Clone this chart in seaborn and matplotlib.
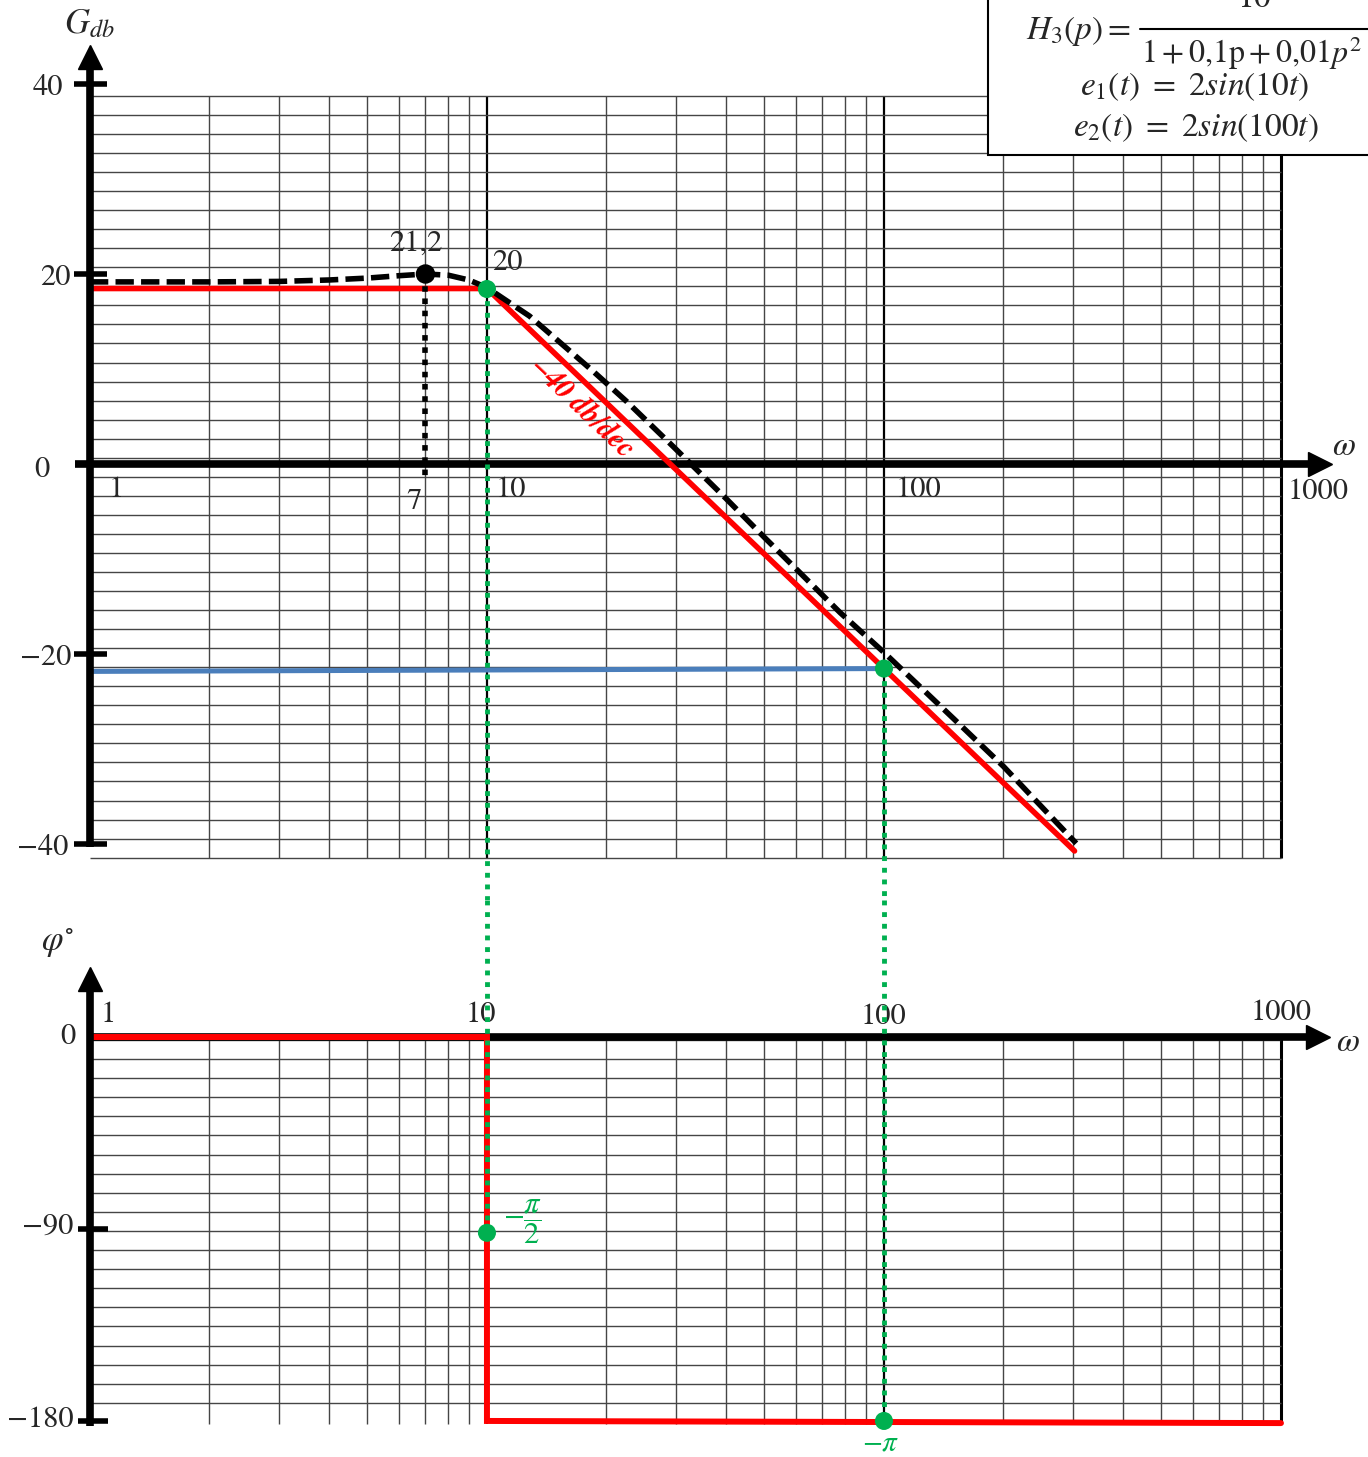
import matplotlib
matplotlib.use('Agg')
import matplotlib.pyplot as plt
from matplotlib.patches import Rectangle
from matplotlib.lines import Line2D
import seaborn as sns
import numpy as np

# values
w_asym = [1, 10, 302]
g_asym = [18.5, 18.5, -40.7]

w_real = [1, 2, 3, 4, 5, 6, 7, 8, 9, 10, 12.8, 15.3, 18.5, 22.5, 29.4, 40, 50, 77.5, 100, 150, 200, 305]
g_real = [19.2, 19.2, 19.25, 19.4, 19.6, 19.85, 20.03, 19.9, 19.4, 18.6, 15.6, 12.8, 9.8, 6.6, 1.9,
          -3.6, -7.7, -15.6, -19.8, -26.8, -31.8, -39.9]

w_blue = [1, 100]
g_blue = [-21.8, -21.5]

w_peak = [7]
g_peak = [20.03]
w_green = [10, 100]
g_green = [18.45, -21.5]

w_phase = [1, 10, 10, 1000]
p_phase = [0, 0, -180, -181]
w_green_ph = [10, 100]
p_green_ph = [-91.8, -180]

gain_ticks = [40, 20, -20, -40]
phase_ticks = [-90, -180]

GREEN = '#00B050'
RED = '#FF0000'
BLUE = '#4A7EBB'
GRID = '#454545'

sns.set_style('white')
plt.rcParams['font.family'] = ['STIXGeneral', 'DejaVu Serif']
plt.rcParams['mathtext.fontset'] = 'stix'
plt.rcParams['axes.unicode_minus'] = True

W, H = 1368, 1457
fig = plt.figure(figsize=(W / 100, H / 100), dpi=100)
ax1 = fig.add_axes([0, 1 - 900 / H, 1, 900 / H])
ax2 = fig.add_axes([0, 0, 1, 557 / H])
for ax in (ax1, ax2):
    ax.set_xscale('log')
    ax.set_xlim(0.5935, 1656.6)
    ax.set_axis_off()
ax1.set_ylim(-45.86, 48.87)
ax2.set_ylim(-196.9, 64.23)

minor = [m * d for d in [1, 10, 100] for m in range(2, 10)]

# ---- gain paper ----
gt, gb = 38.77, -41.4
ax1.vlines(minor, gb, gt, color=GRID, lw=1.0, zorder=1)
ax1.vlines([10, 100], gb, gt, color='black', lw=1.6, zorder=1)
ax1.vlines([1000], gb, gt, color='black', lw=2.2, zorder=1)
ax1.hlines(np.linspace(gt, gb, 41), 1, 1000, color=GRID, lw=1.0, zorder=1)

# axes with arrows
ax1.plot([1, 1], [-40.3, 42.0], color='black', lw=5.5, solid_capstyle='butt', zorder=5)
ax1.plot([1], [42.9], marker='^', ms=17, color='black', zorder=5)
ax1.plot([0.917, 1180], [0, 0], color='black', lw=5.5, solid_capstyle='butt', zorder=2)
ax1.plot([1253.6], [0], marker='>', ms=17, color='black', zorder=2)
ax1.hlines(gain_ticks, 0.911, 1.104, color='black', lw=4, zorder=5)

# curves
sns.lineplot(x=w_asym, y=g_asym, ax=ax1, color=RED, lw=4, sort=False, estimator=None, zorder=3)
sns.lineplot(x=w_real, y=g_real, ax=ax1, color='black', lw=4, ls=(0, (3.3, 1.3)),
             sort=False, estimator=None, zorder=4)
sns.lineplot(x=w_blue, y=g_blue, ax=ax1, color=BLUE, lw=3.6, sort=False, estimator=None, zorder=3)
ax1.plot([7, 7], [g_peak[0], -1.8], color='black', lw=4, ls=(0, (1, 1.2)), zorder=4)
ax1.plot([10, 10], [g_green[0], -45.86], color=GREEN, lw=3.5, ls=(0, (1, 1.4)), zorder=4)
ax1.plot([100, 100], [g_green[1], -45.86], color=GREEN, lw=3.5, ls=(0, (1, 1.4)), zorder=4)
sns.scatterplot(x=w_peak, y=g_peak, ax=ax1, color='black', s=14 ** 2, edgecolor='none', zorder=6)
sns.scatterplot(x=w_green, y=g_green, ax=ax1, color=GREEN, s=13 ** 2, edgecolor='none', zorder=6)

fs = 22
ax1.text(0.994, 46.3, r'$G_{db}$', fontsize=25, ha='center', va='center')
for v, xw in zip(gain_ticks, [0.784, 0.816, 0.775, 0.761]):
    ax1.text(xw, v - 0.4, f'{v}'.replace('-', '\u2212'), fontsize=fs, ha='center', va='center')
ax1.text(0.757, -0.6, '0', fontsize=fs, ha='center', va='center')
ax1.text(1.163, -2.7, '1', fontsize=fs, ha='center', va='center')
ax1.text(6.54, -3.96, '7', fontsize=fs, ha='center', va='center')
ax1.text(11.5, -2.7, '10', fontsize=fs, ha='center', va='center')
ax1.text(121.9, -2.7, '100', fontsize=fs, ha='center', va='center')
ax1.text(1240, -2.9, '1000', fontsize=fs, ha='center', va='center')
ax1.text(1437, 1.8, r'$\omega$', fontsize=24, ha='center', va='center')
ax1.text(6.61, 23.2, '21,2', fontsize=fs, ha='center', va='center')
ax1.text(11.28, 21.2, '20', fontsize=fs, ha='center', va='center')
ax1.text(17.3, 5.9, '\u221240 db/dec', fontsize=21, color=RED, style='italic', weight='bold',
         rotation=-43.6, ha='center', va='center', rotation_mode='anchor')

# ---- phase paper ----
ax2.vlines(minor, -181.5, 0, color=GRID, lw=1.0, zorder=1)
ax2.vlines([10, 100], -181.5, 0, color='black', lw=1.6, zorder=1)
ax2.vlines([1000], -181.5, 0, color='black', lw=2.2, zorder=1)
ax2.hlines(np.linspace(-1.4, -171.5, 20), 1, 1000, color=GRID, lw=1.0, zorder=1)

ax2.plot([1, 1], [-182.5, 22.0], color='black', lw=5.5, solid_capstyle='butt', zorder=5)
ax2.plot([1], [27.2], marker='^', ms=17, color='black', zorder=5)
ax2.plot([1, 1180], [0, 0], color='black', lw=5.5, solid_capstyle='butt', zorder=2)
ax2.plot([1240], [0], marker='>', ms=17, color='black', zorder=2)
ax2.hlines(phase_ticks, 0.933, 1.11, color='black', lw=4, zorder=5)

sns.lineplot(x=w_phase, y=p_phase, ax=ax2, color=RED, lw=4.3, sort=False, estimator=None,
             zorder=3, solid_joinstyle='miter')
ax2.plot([10, 10], [64.23, p_green_ph[0]], color=GREEN, lw=3.5, ls=(0, (1, 1.4)), zorder=4)
ax2.plot([100, 100], [64.23, p_green_ph[1]], color=GREEN, lw=3.5, ls=(0, (1, 1.4)), zorder=4)
sns.scatterplot(x=w_green_ph, y=p_green_ph, ax=ax2, color=GREEN, s=13 ** 2, edgecolor='none', zorder=6)

ax2.text(0.83, 44.1, r'$\varphi^{\circ}$', fontsize=25, ha='center', va='center')
ax2.text(1.11, 10.3, '1', fontsize=fs, ha='center', va='center')
ax2.text(9.66, 10.3, '10', fontsize=fs, ha='center', va='center')
ax2.text(100, 9.4, '100', fontsize=fs, ha='center', va='center')
ax2.text(1000, 11.3, '1000', fontsize=fs, ha='center', va='center')
ax2.text(1475, -2.8, r'$\omega$', fontsize=24, ha='center', va='center')
ax2.text(0.88, 0, '0', fontsize=fs, ha='center', va='center')
ax2.text(0.784, -89.1, '\u221290', fontsize=fs, ha='center', va='center')
ax2.text(0.748, -179.6, '\u2212180', fontsize=fs, ha='center', va='center')
ax2.text(12.3, -86.7, r'$-\dfrac{\pi}{2}$', fontsize=22, color=GREEN, ha='center', va='center')
ax2.text(98.2, -190.8, r'$-\pi$', fontsize=21, color=GREEN, ha='center', va='center')

# ---- formula box ----
fig.add_artist(Rectangle((988 / W, 1 - 155 / H), 0.3, 0.2, transform=fig.transFigure,
                         facecolor='white', edgecolor='black', lw=1.5, zorder=10))
fig.add_artist(Line2D([1140 / W, 1368 / W], [1 - 29 / H] * 2, color='black', lw=1.5, zorder=11))
bfs = 24
fig.text(1026 / W, 1 - 31 / H, r'$H_3(p) =$', fontsize=bfs, ha='left', va='center', zorder=11)
fig.text(1254 / W, 1 + 1 / H, r'$10$', fontsize=bfs, ha='center', va='center', zorder=11)
fig.text(1252 / W, 1 - 53 / H, r'$1 + 0{,}1\mathrm{p} + 0{,}01p^2$', fontsize=23,
         ha='center', va='center', zorder=11)
fig.text(1194 / W, 1 - 87 / H, r'$e_1(t)\ =\ 2sin(10t)$', fontsize=bfs, ha='center', va='center', zorder=11)
fig.text(1196 / W, 1 - 128 / H, r'$e_2(t)\ =\ 2sin(100t)$', fontsize=bfs, ha='center', va='center', zorder=11)

fig.savefig('out.png', dpi=100)
